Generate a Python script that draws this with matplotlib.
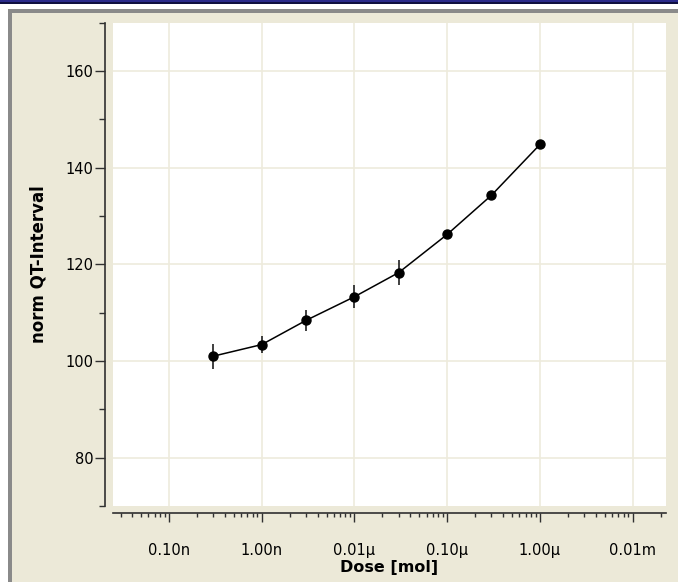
import matplotlib
matplotlib.use("Agg")
import matplotlib.pyplot as plt
from matplotlib.patches import Rectangle
from matplotlib.ticker import FixedLocator, FixedFormatter, LogLocator, NullFormatter

plt.rcParams['font.family'] = ['DejaVu Sans']

# ---- data ----
dose = [3e-10, 1e-9, 3e-9, 1e-8, 3e-8, 1e-7, 3e-7, 1e-6]
qt = [101.0, 103.4, 108.4, 113.3, 118.3, 126.2, 134.3, 144.8]
qt_err = [2.6, 1.7, 2.1, 2.4, 2.6, 0.6, 0.5, 0.4]
xtick_vals = [1e-10, 1e-9, 1e-8, 1e-7, 1e-6, 1e-5]
xtick_labels = ["0.10n", "1.00n", "0.01\u00b5", "0.10\u00b5", "1.00\u00b5", "0.01m"]
ytick_vals = [80, 100, 120, 140, 160]

W, H = 678, 582
fig = plt.figure(figsize=(W / 100, H / 100), dpi=100)
fig.patch.set_facecolor("white")

def px_rect(x0, y0, x1, y1, color, z=-10):
    fig.patches.append(Rectangle((x0 / W, 1 - y1 / H), (x1 - x0) / W, (y1 - y0) / H,
                                 transform=fig.transFigure, facecolor=color,
                                 edgecolor="none", zorder=z))

# window decorations
px_rect(0, 0, W, 4, "#101040", -10)
px_rect(0, 0, W, 2, "#2a2a8a", -9)
px_rect(8, 9, W + 5, H + 5, "#8a8a8a", -8)
px_rect(12, 13, W + 5, H + 5, "#ECE9D8", -7)

ax = fig.add_axes([112.7 / W, 1 - 506 / H, (666 - 112.7) / W, (506 - 22.7) / H])
ax.set_zorder(5)
ax.set_facecolor("white")

ax.set_xscale("log")
ax.set_xlim(10 ** -10.607, 10 ** -4.641)
ax.set_ylim(70, 170)

ax.plot(dose, qt, color="black", lw=1.1, zorder=3)
ax.errorbar(dose, qt, yerr=qt_err, fmt="none", ecolor="#303030", elinewidth=1.3, capsize=0, zorder=3)
ax.plot(dose, qt, "o", color="black", ms=6.5, zorder=4)

ax.xaxis.set_major_locator(FixedLocator(xtick_vals))
ax.xaxis.set_major_formatter(FixedFormatter(xtick_labels))
ax.xaxis.set_minor_locator(LogLocator(base=10, subs=range(2, 10), numticks=20))
ax.xaxis.set_minor_formatter(NullFormatter())
ax.yaxis.set_major_locator(FixedLocator(ytick_vals))
ax.yaxis.set_minor_locator(FixedLocator([70, 90, 110, 130, 150, 170]))

ax.grid(True, which="major", color="#EEEBDD", lw=1.2, zorder=0)
ax.set_axisbelow(True)

for s in ["top", "right"]:
    ax.spines[s].set_visible(False)
ax.spines["left"].set_position(("outward", 5.8))
ax.spines["bottom"].set_position(("outward", 5.3))
for s in ["left", "bottom"]:
    ax.spines[s].set_color("#303030")
    ax.spines[s].set_linewidth(1.2)

ax.tick_params(axis="x", which="major", length=6.5, width=1, color="#303030",
               labelsize=10.5, pad=15, labelcolor="black")
ax.tick_params(axis="x", which="minor", length=3, width=1, color="#303030")
ax.tick_params(axis="y", which="major", length=7.5, width=1, color="#303030",
               labelsize=10.5, pad=0.3, labelcolor="black")
ax.tick_params(axis="y", which="minor", length=4, width=1, color="#303030")

ax.set_xlabel("Dose [mol]", fontsize=11.5, fontweight="bold", labelpad=1)
ax.set_ylabel("norm QT-Interval", fontsize=12, fontweight="bold", labelpad=13)

fig.savefig("out.png", dpi=100, facecolor=fig.get_facecolor())
